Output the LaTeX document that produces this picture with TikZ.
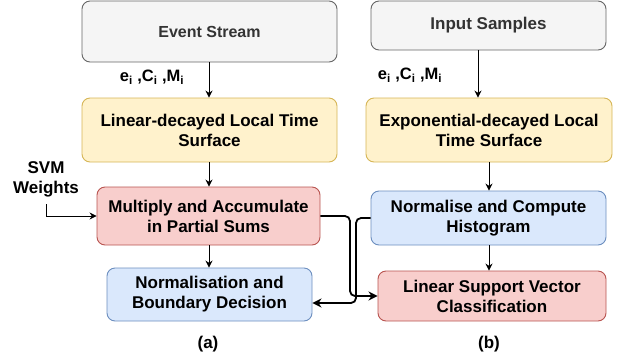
\documentclass[tikz,border=0pt]{standalone}
\usepackage{fontspec}
\setmainfont{Liberation Sans}
\usetikzlibrary{arrows.meta}
\definecolor{grayfill}{HTML}{F5F5F5}
\definecolor{graydraw}{HTML}{666666}
\definecolor{graytext}{HTML}{333333}
\definecolor{yelfill}{HTML}{FFF2CC}
\definecolor{yeldraw}{HTML}{D6B656}
\definecolor{redfill}{HTML}{F8CECC}
\definecolor{reddraw}{HTML}{B85450}
\definecolor{bluefill}{HTML}{DAE8FC}
\definecolor{bluedraw}{HTML}{6C8EBF}
\tikzset{
  box/.style={draw, rounded corners=8pt, line width=0.9pt, inner sep=0pt, align=center,
    font=\fontsize{17}{20}\selectfont\bfseries},
  graybox/.style={box, fill=grayfill, draw=graydraw, text=graytext},
  yelbox/.style={box, fill=yelfill, draw=yeldraw},
  redbox/.style={box, fill=redfill, draw=reddraw},
  bluebox/.style={box, fill=bluefill, draw=bluedraw},
  arr/.style={draw=black, line width=0.9pt, -{Stealth[length=7pt,width=7pt]}},
  thickarr/.style={draw=black, line width=1.8pt, rounded corners=5pt, -{Stealth[length=9pt,width=9pt]}},
  lbl/.style={inner sep=0pt, font=\fontsize{17}{20}\selectfont\bfseries, align=center},
  sublbl/.style={inner sep=0pt, font=\fontsize{16.5}{19}\selectfont\bfseries}
}
\begin{document}
\begin{tikzpicture}[x=1pt,y=-1pt]
\useasboundingbox (0,0) rectangle (625,360);
% left column
\node[graybox, minimum width=255pt, minimum height=61pt, font=\fontsize{16}{19}\selectfont\bfseries] (ES) at (209.5,31.5) {Event Stream};
\node[yelbox, minimum width=255pt, minimum height=64pt] (LD) at (209.5,130) {Linear-decayed Local Time\\Surface};
\node[redbox, minimum width=223pt, minimum height=58pt] (MA) at (208.5,216) {Multiply and Accumulate\\in Partial Sums};
\node[bluebox, minimum width=205pt, minimum height=53pt] (NB) at (209.5,294.5) {Normalisation and\\Boundary Decision};
\node[sublbl] (la) at (152,77) {e\textsubscript{i} ,C\textsubscript{i} ,M\textsubscript{i}};
\node[lbl] (svm) at (46,179.5) {SVM\\Weights};
\node[lbl] (capa) at (208,344) {(a)};
% right column
\node[graybox, minimum width=235pt, minimum height=49pt] (IS) at (488.5,25.5) {Input Samples};
\node[yelbox, minimum width=246pt, minimum height=64pt] (ED) at (489,130) {Exponential-decayed Local\\Time Surface};
\node[bluebox, minimum width=235pt, minimum height=54pt] (NH) at (488.5,218) {Normalise and Compute\\Histogram};
\node[redbox, minimum width=228pt, minimum height=50pt] (LS) at (492,296) {Linear Support Vector\\Classification};
\node[sublbl] (lb) at (410,75) {e\textsubscript{i} ,C\textsubscript{i} ,M\textsubscript{i}};
\node[lbl] (capb) at (489,344) {(b)};
% helper coordinates
\coordinate (xa) at (209,0);
\coordinate (xin) at (478,0);
\coordinate (xb) at (489,0);
\coordinate (svmstart) at (46,204);
\coordinate (m1) at (350,216);
\coordinate (m2) at (350,296);
\coordinate (n1) at (356,218);
\coordinate (n2) at (356,303);
% arrows
\draw[arr] (ES.south -| xa) -- (LD.north -| xa);
\draw[arr] (LD.south -| xa) -- (MA.north -| xa);
\draw[arr] (MA.south -| xa) -- (NB.north -| xa);
\draw[arr] (IS.south -| xin) -- (ED.north -| xin);
\draw[arr] (ED.south -| xb) -- (NH.north -| xb);
\draw[arr] (NH.south -| xb) -- (LS.north -| xb);
\draw[arr] (svmstart) |- (MA.west);
\draw[thickarr] (MA.east) -- (m1) -- (m2) -- (LS.west);
\draw[thickarr] (NH.west |- n1) -- (n1) -- (n2) -- (NB.east |- n2);
\end{tikzpicture}
\end{document}
